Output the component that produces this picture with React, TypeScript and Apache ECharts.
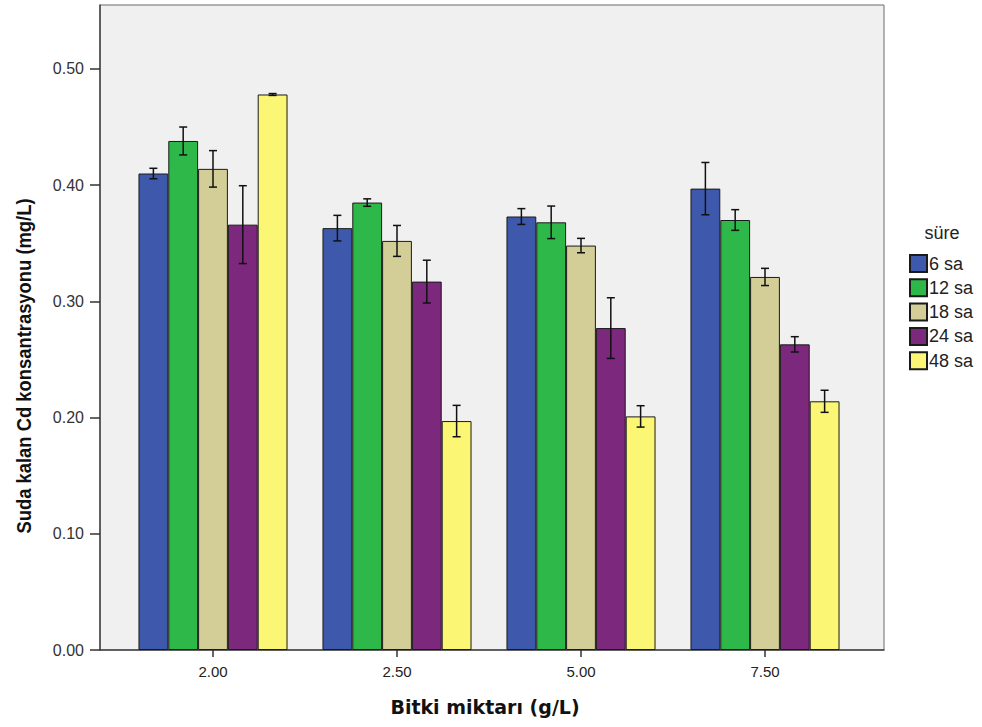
import React, { useEffect, useRef } from "react";
import * as echarts from "echarts";

const categories = ["2.00", "2.50", "5.00", "7.50"];
const seriesNames = ["6 sa", "12 sa", "18 sa", "24 sa", "48 sa"];
const colors = ["#3e58ac", "#2eb84a", "#d3ce97", "#7c287d", "#fbf673"];
const mean6 = [0.410, 0.363, 0.373, 0.397];
const mean12 = [0.438, 0.385, 0.368, 0.370];
const mean18 = [0.414, 0.352, 0.348, 0.321];
const mean24 = [0.366, 0.317, 0.277, 0.263];
const mean48 = [0.478, 0.197, 0.201, 0.214];
const err6 = [0.0045, 0.011, 0.0068, 0.0225];
const err12 = [0.012, 0.0032, 0.014, 0.0089];
const err18 = [0.0157, 0.0133, 0.0062, 0.0074];
const err24 = [0.0335, 0.0184, 0.0261, 0.0066];
const err48 = [0.0008, 0.0135, 0.0092, 0.0095];
const yTicks = [0, 0.1, 0.2, 0.3, 0.4, 0.5];
const yMax = 0.555;

const means = [mean6, mean12, mean18, mean24, mean48];
const errs = [err6, err12, err18, err24, err48];

const BAR_FRAC = 0.162;

export default function App() {
  const ref = useRef<HTMLDivElement>(null);
  useEffect(() => {
    if (!ref.current) return;
    const chart = echarts.init(ref.current, undefined, { renderer: "svg" });
    const errData: number[][] = [];
    means.forEach((m, s) => {
      m.forEach((v, c) => {
        errData.push([c, s, v - errs[s][c], v + errs[s][c]]);
      });
    });
    const barSeries = seriesNames.map((name, s) => ({
      type: "bar",
      name,
      xAxisIndex: 0,
      yAxisIndex: 0,
      data: means[s],
      barWidth: BAR_FRAC * 100 + "%",
      barGap: "0%",
      itemStyle: { color: colors[s], borderColor: "#1a1a1a", borderWidth: 1 },
      z: 3,
    }));
    const option: any = {
      animation: false,
      backgroundColor: "#ffffff",
      textStyle: { fontFamily: "Liberation Sans, Arial, sans-serif" },
      grid: [
        { left: 121, right: 125, top: 5, bottom: 77, containLabel: false },
        {
          left: 100,
          right: 98,
          top: 5,
          bottom: 77,
          show: true,
          backgroundColor: "#f0f0f0",
          borderColor: "#6a6a6a",
          borderWidth: 1,
          z: 0,
        },
      ],
      xAxis: [
        {
          type: "category",
          gridIndex: 0,
          data: categories,
          axisLine: { show: false },
          axisTick: {
            show: true,
            alignWithLabel: true,
            inside: false,
            length: 7,
            lineStyle: { color: "#333", width: 1.5 },
          },
          axisLabel: {
            color: "#222",
            fontSize: 15,
            margin: 14,
            fontFamily: "Liberation Sans, Arial, sans-serif",
          },
          splitLine: { show: false },
        },
        {
          type: "value",
          gridIndex: 1,
          show: true,
          min: 0,
          max: 1,
          axisLine: { show: true, onZero: false, lineStyle: { color: "#444", width: 1.5 } },
          axisTick: { show: false },
          axisLabel: { show: false },
          splitLine: { show: false },
        },
      ],
      yAxis: [
        {
          type: "value",
          gridIndex: 0,
          min: 0,
          max: yMax,
          interval: 0.1,
          show: false,
          splitLine: { show: false },
        },
        {
          type: "value",
          gridIndex: 1,
          min: 0,
          max: yMax,
          interval: 0.1,
          axisLine: { show: true, lineStyle: { color: "#444", width: 1.5 } },
          axisTick: {
            show: true,
            length: 10,
            lineStyle: { color: "#333", width: 1.5 },
            customValues: yTicks,
          },
          axisLabel: {
            color: "#333",
            fontSize: 16,
            margin: 16,
            customValues: yTicks,
            formatter: (v: number) => v.toFixed(2),
          },
          splitLine: { show: false },
        },
      ],
      legend: {
        orient: "vertical",
        left: 909,
        top: 254,
        itemWidth: 17,
        itemHeight: 17,
        itemGap: 5.3,
        icon: "rect",
        data: seriesNames,
        textStyle: { fontSize: 18, color: "#222", padding: [0, 0, 0, -3] },
        padding: 0,
      },
      graphic: [
        {
          type: "text",
          x: 942,
          y: 233,
          style: {
            text: "süre",
            fontSize: 18,
            fill: "#222",
            align: "center",
            verticalAlign: "middle",
            fontFamily: "Liberation Sans, Arial, sans-serif",
          },
        },
        {
          type: "text",
          x: 24,
          y: 366,
          rotation: Math.PI / 2,
          scaleX: 0.92,
          style: {
            text: "Suda kalan Cd konsantrasyonu (mg/L)",
            fontSize: 20,
            fontWeight: "bold",
            fill: "#111",
            align: "center",
            verticalAlign: "middle",
            fontFamily: "Liberation Sans, Arial, sans-serif",
          },
        },
        {
          type: "text",
          x: 485,
          y: 707,
          style: {
            text: "Bitki miktarı (g/L)",
            fontSize: 19,
            fontWeight: "bold",
            fill: "#111",
            align: "center",
            verticalAlign: "middle",
            fontFamily: "DejaVu Sans, Verdana, sans-serif",
          },
        },
      ],
      series: [
        ...barSeries,
        {
          type: "custom",
          name: "err",
          xAxisIndex: 0,
          yAxisIndex: 0,
          data: errData,
          encode: { x: 0, y: [2, 3] },
          z: 10,
          silent: true,
          renderItem: (params: any, api: any) => {
            const c = api.value(0);
            const s = api.value(1);
            const lo = api.coord([c, api.value(2)]);
            const hi = api.coord([c, api.value(3)]);
            const band = api.size([1, 0])[0];
            const x = lo[0] + (s - 2) * band * BAR_FRAC;
            const cap = 4;
            const style = { stroke: "#111", lineWidth: 1.5 };
            return {
              type: "group",
              children: [
                { type: "line", shape: { x1: x, y1: lo[1], x2: x, y2: hi[1] }, style },
                { type: "line", shape: { x1: x - cap, y1: lo[1], x2: x + cap, y2: lo[1] }, style },
                { type: "line", shape: { x1: x - cap, y1: hi[1], x2: x + cap, y2: hi[1] }, style },
              ],
            };
          },
        },
      ],
    };
    chart.setOption(option);
    return () => chart.dispose();
  }, []);
  return (
    <div
      ref={ref}
      style={{ position: "fixed", left: 0, top: 0, width: 982, height: 727 }}
    />
  );
}
